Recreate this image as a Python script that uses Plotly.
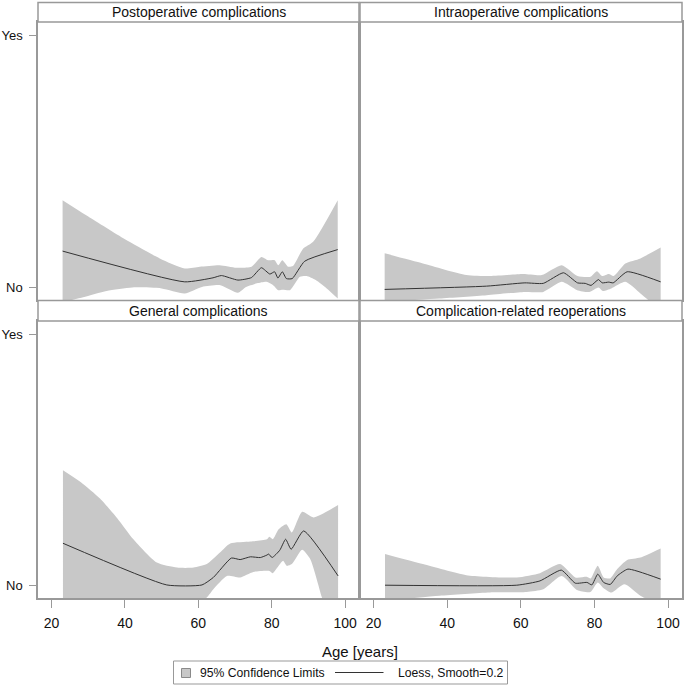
import plotly.graph_objects as go

# ---------------- data ----------------
panel_titles = ["Postoperative complications", "Intraoperative complications",
                "General complications", "Complication-related reoperations"]
x_tick_vals = [20, 40, 60, 80, 100]
y_tick_vals = [0, 1]
y_tick_text = ["No", "Yes"]
legend_labels = ["95% Confidence Limits", "Loess, Smooth=0.2"]
x_title = "Age [years]"

# Postoperative complications
postop_fit_age = [23, 56.3, 64, 66.3, 70.8, 74.5, 77.2, 79.5, 80.8, 81.7, 82.9, 84, 85.6, 89, 98]
postop_fit = [0.143, 0.021, 0.037, 0.046, 0.028, 0.038, 0.077, 0.052, 0.061, 0.036, 0.061, 0.034, 0.034, 0.103, 0.149]
postop_up_age = [23, 30, 40, 49.5, 56.3, 60.4, 65.8, 70.4, 74.5, 77.2, 79, 80.8, 81.8, 82.9, 84.5, 85.8, 88.6, 91.3, 98]
postop_up = [0.345, 0.28, 0.19, 0.114, 0.074, 0.081, 0.087, 0.077, 0.081, 0.12, 0.107, 0.107, 0.087, 0.107, 0.081, 0.084, 0.153, 0.180, 0.345]
postop_lo_age = [23, 28.6, 35, 42, 50, 56.3, 61, 66, 70.8, 73, 76, 78.6, 80.4, 81.8, 83, 85, 87.7, 89.5, 92, 95, 98]
postop_lo = [-0.06, -0.04, -0.015, -0.001, -0.005, -0.025, 0.001, 0.008, -0.022, 0.001, 0.015, 0.021, 0.008, -0.012, -0.01, -0.012, 0.041, 0.044, 0.028, -0.005, -0.045]

# Intraoperative complications
intra_fit_age = [23, 50.7, 61.1, 66.1, 71.6, 75.4, 77.5, 79.1, 81.1, 82.1, 83.9, 85.1, 88.9, 98]
intra_fit = [-0.009, 0.004, 0.017, 0.015, 0.057, 0.017, 0.015, 0.007, 0.030, 0.017, 0.020, 0.017, 0.061, 0.021]
intra_up_age = [23, 33.4, 45.2, 51.6, 60.7, 65.7, 71.1, 75.4, 78.9, 80.7, 82.1, 83.9, 85.2, 88.4, 92.5, 98]
intra_up = [0.134, 0.094, 0.048, 0.044, 0.052, 0.048, 0.087, 0.044, 0.041, 0.063, 0.044, 0.052, 0.044, 0.094, 0.114, 0.157]
intra_lo_age = [23, 37.9, 50.7, 61.1, 66.1, 71.1, 75.3, 78.6, 81.1, 82.3, 84.6, 88.4, 92.5, 95.2, 98]
intra_lo = [-0.058, -0.045, -0.032, -0.019, -0.019, 0.021, -0.012, -0.019, -0.001, -0.015, -0.005, 0.021, -0.025, -0.058, -0.09]

# General complications
gen_fit_age = [23.1, 51.4, 61, 64.1, 69, 71.4, 74.2, 76.9, 78.7, 79.2, 80.1, 82.2, 83.8, 85.3, 88.7, 98.1]
gen_fit = [0.167, 0.001, 0.001, 0.031, 0.108, 0.102, 0.113, 0.110, 0.120, 0.124, 0.110, 0.139, 0.183, 0.143, 0.216, 0.037]
gen_up_age = [23.1, 28, 33.2, 38, 42.3, 48.7, 54.2, 58.7, 62.3, 65.9, 68.7, 74.2, 78.7, 79.4, 80.3, 81.9, 84, 85.5, 88.3, 91.4, 98.1]
gen_up = [0.458, 0.41, 0.345, 0.265, 0.183, 0.090, 0.070, 0.070, 0.084, 0.130, 0.166, 0.174, 0.183, 0.193, 0.183, 0.223, 0.243, 0.210, 0.292, 0.270, 0.319]
gen_lo_age = [23.1, 40, 55, 62.3, 64.1, 67.8, 71.4, 75, 79.4, 80.3, 81.9, 83.1, 84.1, 85.5, 88.3, 90.5, 93.7, 98.1]
gen_lo = [-0.35, -0.25, -0.12, -0.049, -0.016, 0.037, 0.031, 0.053, 0.057, 0.048, 0.077, 0.097, 0.077, 0.084, 0.141, 0.104, -0.049, -0.25]

# Complication-related reoperations
reop_fit_age = [23.1, 58.9, 65.2, 71, 74.8, 78, 79.3, 80.9, 82.5, 84.3, 86.2, 89.1, 98]
reop_fit = [0.0, 0.0, 0.017, 0.060, 0.008, 0.011, 0.001, 0.044, 0.011, 0.003, 0.037, 0.064, 0.024]
reop_up_age = [23.1, 33.4, 45.2, 58.9, 65.2, 70.7, 74.8, 78, 79, 80.9, 82.5, 84.3, 86.2, 88.9, 92.5, 98]
reop_up = [0.124, 0.084, 0.040, 0.031, 0.048, 0.084, 0.031, 0.033, 0.027, 0.077, 0.031, 0.027, 0.064, 0.100, 0.110, 0.146]
reop_lo_age = [23.1, 37.9, 51.6, 61.6, 66.1, 71.1, 75.3, 78.9, 80.9, 82.5, 84.6, 88.2, 92.5, 95.2, 98]
reop_lo = [-0.062, -0.042, -0.029, -0.027, -0.016, 0.037, -0.019, -0.027, 0.011, -0.012, -0.029, 0.004, -0.042, -0.062, -0.09]

panels = [
    (postop_fit_age, postop_fit, postop_up_age, postop_up, postop_lo_age, postop_lo),
    (intra_fit_age, intra_fit, intra_up_age, intra_up, intra_lo_age, intra_lo),
    (gen_fit_age, gen_fit, gen_up_age, gen_up, gen_lo_age, gen_lo),
    (reop_fit_age, reop_fit, reop_up_age, reop_up, reop_lo_age, reop_lo),
]

# ---------------- layout geometry ----------------
W, H = 685, 687
ML, MR, MT, MB = 38, 3, 2, 89
pw, ph = W - ML - MR, H - MT - MB

def px2x(p):
    return (p - ML) / pw

def px2y(p):
    return (H - MB - p) / ph

x_doms = [[px2x(38), px2x(359)], [px2x(360), px2x(682)]]
y_plot = [[px2y(300), px2y(22)], [px2y(598), px2y(321)]]
y_strip = [[px2y(22), px2y(2.5)], [px2y(321), px2y(300.5)]]

band_color = "#c8c8c8"
line_color = "#333333"
frame_color = "#999999"
FONT = "Liberation Sans, Arial, sans-serif"

fig = go.Figure()
layout = dict(width=W, height=H, margin=dict(l=ML, r=MR, t=MT, b=MB, autoexpand=False),
              plot_bgcolor="white", paper_bgcolor="white", showlegend=False,
              font=dict(family=FONT, size=14, color="#111111"))

shapes, annotations = [], []
for i, (fa, fv, ua, uv, la, lv) in enumerate(panels):
    r, c = divmod(i, 2)
    k = "" if i == 0 else str(i + 1)
    xa, ya = "x" + k, "y" + k
    fig.add_trace(go.Scatter(
        x=la, y=lv, mode="lines",
        line=dict(width=0, color=band_color, shape="spline", smoothing=0.6),
        name=legend_labels[0], hoverinfo="skip", xaxis=xa, yaxis=ya))
    fig.add_trace(go.Scatter(
        x=ua, y=uv, mode="lines", fill="tonexty", fillcolor=band_color,
        line=dict(width=0, color=band_color, shape="spline", smoothing=0.6),
        name=legend_labels[0], hoverinfo="skip", xaxis=xa, yaxis=ya))
    fig.add_trace(go.Scatter(
        x=fa, y=fv, mode="lines",
        line=dict(color=line_color, width=1, shape="spline", smoothing=0.5),
        name=legend_labels[1], xaxis=xa, yaxis=ya))
    layout["xaxis" + k] = dict(
        domain=x_doms[c], range=[16.3, 103.8], anchor=ya,
        tickvals=x_tick_vals, showticklabels=(r == 1),
        ticks="outside" if r == 1 else "", ticklen=8, tickcolor=frame_color,
        ticklabelstandoff=3,
        showline=True, linecolor=frame_color, linewidth=1.5, mirror=True,
        showgrid=False, zeroline=False, tickfont=dict(size=14))
    layout["yaxis" + k] = dict(
        domain=y_plot[r], range=[-0.051, 1.052], anchor=xa,
        tickvals=y_tick_vals, ticktext=y_tick_text, showticklabels=(c == 0),
        ticks="outside" if c == 0 else "", ticklen=7, tickcolor=frame_color,
        ticklabelstandoff=4,
        showline=True, linecolor=frame_color, linewidth=1.5, mirror=True,
        showgrid=False, zeroline=False, tickfont=dict(size=13))
    shapes.append(dict(type="rect", xref="paper", yref="paper",
                       x0=x_doms[c][0], x1=x_doms[c][1],
                       y0=y_strip[r][0], y1=y_strip[r][1],
                       line=dict(color=frame_color, width=1.5), fillcolor="white"))
    annotations.append(dict(text=panel_titles[i], xref="paper", yref="paper",
                            x=(x_doms[c][0] + x_doms[c][1]) / 2,
                            y=(y_strip[r][0] + y_strip[r][1]) / 2,
                            showarrow=False, font=dict(size=14),
                            xanchor="center", yanchor="middle"))

annotations.append(dict(text=x_title, xref="paper", yref="paper",
                        x=px2x(360), y=px2y(651.5), showarrow=False,
                        font=dict(size=15), xanchor="center", yanchor="middle"))

# ---- legend box (drawn to match the reference's compact legend) ----
leg_y = px2y(672.5)
shapes.append(dict(type="rect", xref="paper", yref="paper",
                   x0=px2x(173.5), x1=px2x(507.5), y0=px2y(684), y1=px2y(661),
                   line=dict(color=frame_color, width=1), fillcolor="white"))
shapes.append(dict(type="rect", xref="paper", yref="paper",
                   x0=px2x(181.5), x1=px2x(190.5), y0=px2y(677.5), y1=px2y(668.5),
                   line=dict(color="#8a8a8a", width=1), fillcolor=band_color))
shapes.append(dict(type="line", xref="paper", yref="paper",
                   x0=px2x(335), x1=px2x(383.5), y0=leg_y, y1=leg_y,
                   line=dict(color=line_color, width=1)))
annotations.append(dict(text=legend_labels[0], xref="paper", yref="paper",
                        x=px2x(197.5), y=leg_y, showarrow=False,
                        font=dict(size=12.2), xanchor="left", yanchor="middle"))
annotations.append(dict(text=legend_labels[1], xref="paper", yref="paper",
                        x=px2x(396), y=leg_y, showarrow=False,
                        font=dict(size=12.2), xanchor="left", yanchor="middle"))

layout["shapes"] = shapes
layout["annotations"] = annotations
fig.update_layout(**layout)
fig.write_html("out.html", config={"displayModeBar": False},
               post_script="document.body.style.margin='0px';")
